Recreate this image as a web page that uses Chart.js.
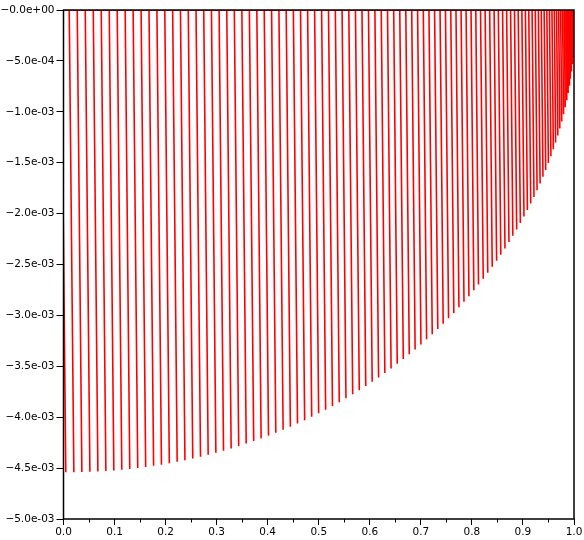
<!DOCTYPE html>
<html>
<head>
<meta charset="utf-8">
<script src="https://cdn.jsdelivr.net/npm/chart.js@4.4.1/dist/chart.umd.min.js"></script>
<style>
  html, body { margin: 0; padding: 0; background: #ffffff; }
  #wrap { width: 584px; height: 540px; }
</style>
</head>
<body>
<div id="wrap"><canvas id="c" width="584" height="540"></canvas></div>
<script>
// x position where each spike leaves the zero line
const spikeTopX = [
  -0.0046, 0.0112, 0.0269, 0.0426, 0.0583, 0.0739, 0.0896, 0.1052, 0.1208, 0.1364,
  0.1520, 0.1675, 0.1830, 0.1984, 0.2138, 0.2291, 0.2444, 0.2596, 0.2747, 0.2898,
  0.3048, 0.3198, 0.3346, 0.3494, 0.3641, 0.3787, 0.3932, 0.4076, 0.4220, 0.4362,
  0.4503, 0.4643, 0.4782, 0.4919, 0.5056, 0.5191, 0.5325, 0.5457, 0.5589, 0.5719,
  0.5847, 0.5974, 0.6100, 0.6224, 0.6347, 0.6468, 0.6587, 0.6705, 0.6821, 0.6936,
  0.7048, 0.7159, 0.7269, 0.7376, 0.7482, 0.7586, 0.7688, 0.7788, 0.7886, 0.7983,
  0.8076, 0.8169, 0.8259, 0.8348, 0.8435, 0.8518, 0.8601, 0.8680, 0.8758, 0.8834,
  0.8907, 0.8979, 0.9048, 0.9114, 0.9179, 0.9242, 0.9302, 0.9359, 0.9415, 0.9468,
  0.9519, 0.9568, 0.9614, 0.9658, 0.9699, 0.9738, 0.9775, 0.9809, 0.9841, 0.9870,
  0.9897, 0.9922, 0.9944, 0.9964, 0.9981, 0.9996, 1.0008, 1.0018, 1.0025, 1.0030,
  1.0033
];
// x position of each spike's lowest point
const spikeTipX = [
  0.0045, 0.0203, 0.0360, 0.0517, 0.0674, 0.0830, 0.0986, 0.1142, 0.1298, 0.1454,
  0.1610, 0.1765, 0.1919, 0.2073, 0.2227, 0.2379, 0.2532, 0.2684, 0.2834, 0.2985,
  0.3135, 0.3284, 0.3432, 0.3579, 0.3726, 0.3871, 0.4016, 0.4159, 0.4302, 0.4444,
  0.4584, 0.4724, 0.4862, 0.4998, 0.5135, 0.5269, 0.5402, 0.5533, 0.5665, 0.5794,
  0.5921, 0.6047, 0.6172, 0.6295, 0.6417, 0.6538, 0.6656, 0.6773, 0.6888, 0.7002,
  0.7113, 0.7223, 0.7332, 0.7438, 0.7543, 0.7646, 0.7746, 0.7845, 0.7942, 0.8038,
  0.8130, 0.8222, 0.8311, 0.8398, 0.8484, 0.8566, 0.8648, 0.8726, 0.8802, 0.8877,
  0.8949, 0.9020, 0.9087, 0.9152, 0.9216, 0.9277, 0.9336, 0.9392, 0.9446, 0.9498,
  0.9548, 0.9595, 0.9640, 0.9683, 0.9722, 0.9760, 0.9796, 0.9828, 0.9859, 0.9886,
  0.9912, 0.9936, 0.9956, 0.9975, 0.9990, 1.0004, 1.0014, 1.0023, 1.0029, 1.0032,
  1.0034
];
// depth of each spike, in units of 1e-3
const spikeDepth = [
  -4.540, -4.540, -4.539, -4.537, -4.533, -4.529, -4.523, -4.516, -4.509, -4.500,
  -4.490, -4.478, -4.466, -4.453, -4.438, -4.423, -4.406, -4.388, -4.370, -4.350,
  -4.329, -4.307, -4.284, -4.259, -4.234, -4.208, -4.181, -4.152, -4.123, -4.093,
  -4.061, -4.029, -3.995, -3.961, -3.926, -3.890, -3.852, -3.814, -3.775, -3.735,
  -3.694, -3.652, -3.609, -3.565, -3.521, -3.475, -3.429, -3.382, -3.334, -3.285,
  -3.235, -3.185, -3.134, -3.082, -3.029, -2.976, -2.921, -2.866, -2.811, -2.754,
  -2.697, -2.640, -2.581, -2.522, -2.463, -2.403, -2.342, -2.280, -2.218, -2.156,
  -2.093, -2.029, -1.965, -1.901, -1.836, -1.770, -1.704, -1.638, -1.571, -1.504,
  -1.437, -1.369, -1.301, -1.232, -1.164, -1.095, -1.025, -0.956, -0.886, -0.816,
  -0.745, -0.675, -0.604, -0.534, -0.463, -0.392, -0.321, -0.249, -0.178, -0.107,
  -0.036
];
const depthUnit = 1e-3;

const xTickValues = [0, 0.1, 0.2, 0.3, 0.4, 0.5, 0.6, 0.7, 0.8, 0.9, 1.0];
const xTickLabels = ['0.0', '0.1', '0.2', '0.3', '0.4', '0.5', '0.6', '0.7', '0.8', '0.9', '1.0'];
const xMinorTicks = [0.05, 0.15, 0.25, 0.35, 0.45, 0.55, 0.65, 0.75, 0.85, 0.95];
const yTickValues = [0, -0.0005, -0.001, -0.0015, -0.002, -0.0025, -0.003, -0.0035, -0.004, -0.0045, -0.005];
const yTickLabels = ['\u22120.0e+00', '\u22125.0e-04', '\u22121.0e-03', '\u22121.5e-03', '\u22122.0e-03',
                     '\u22122.5e-03', '\u22123.0e-03', '\u22123.5e-03', '\u22124.0e-03', '\u22124.5e-03', '\u22125.0e-03'];

// build the polyline: zero line -> tip -> back to zero line, for each spike
const points = [];
for (let i = 0; i < spikeTopX.length; i++) {
  points.push({ x: spikeTopX[i], y: 0 });
  points.push({ x: spikeTipX[i], y: spikeDepth[i] * depthUnit });
  points.push({ x: spikeTopX[i], y: 0 });
}

const framePlugin = {
  id: 'frame',
  afterDatasetsDraw(chart) {
    const { ctx, chartArea: a } = chart;
    ctx.save();
    ctx.strokeStyle = '#000';
    ctx.lineWidth = 1.5;
    ctx.strokeRect(a.left, a.top, a.right - a.left, a.bottom - a.top);
    // minor ticks on the x axis
    const xs = chart.scales.x;
    ctx.lineWidth = 1;
    ctx.beginPath();
    for (const v of xMinorTicks) {
      const px = Math.round(xs.getPixelForValue(v)) + 0.5;
      ctx.moveTo(px, a.bottom);
      ctx.lineTo(px, a.bottom + 3.5);
    }
    ctx.stroke();
    ctx.restore();
  }
};

const font = { family: 'DejaVu Sans', size: 10.5 };

new Chart(document.getElementById('c'), {
  type: 'line',
  data: {
    datasets: [{
      data: points,
      borderColor: '#ff0000',
      borderWidth: 1.6,
      pointRadius: 0,
      tension: 0,
      fill: false,
      clip: 0
    }]
  },
  options: {
    responsive: false,
    animation: false,
    events: [],
    layout: { padding: { top: 10, right: 10, left: 0, bottom: 0 } },
    plugins: { legend: { display: false }, tooltip: { enabled: false } },
    scales: {
      x: {
        type: 'linear',
        min: 0, max: 1,
        afterBuildTicks: s => { s.ticks = xTickValues.map(v => ({ value: v })); },
        afterFit: s => { s.height = 21; },
        ticks: {
          font, color: '#000', padding: 1, maxRotation: 0, autoSkip: false,
          callback: (v, i) => xTickLabels[i]
        },
        grid: { drawOnChartArea: false, drawTicks: true, tickLength: 6, tickColor: '#000', tickWidth: 1 },
        border: { display: false }
      },
      y: {
        type: 'linear',
        min: -0.005, max: 0,
        afterBuildTicks: s => { s.ticks = yTickValues.map(v => ({ value: v })); },
        afterFit: s => { s.width = 63.5; },
        ticks: {
          font, color: '#000', padding: 2, autoSkip: false,
          callback: (v, i) => yTickLabels[i]
        },
        grid: { drawOnChartArea: false, drawTicks: true, tickLength: 7, tickColor: '#000', tickWidth: 1 },
        border: { display: false }
      }
    }
  },
  plugins: [framePlugin]
});
</script>
</body>
</html>
